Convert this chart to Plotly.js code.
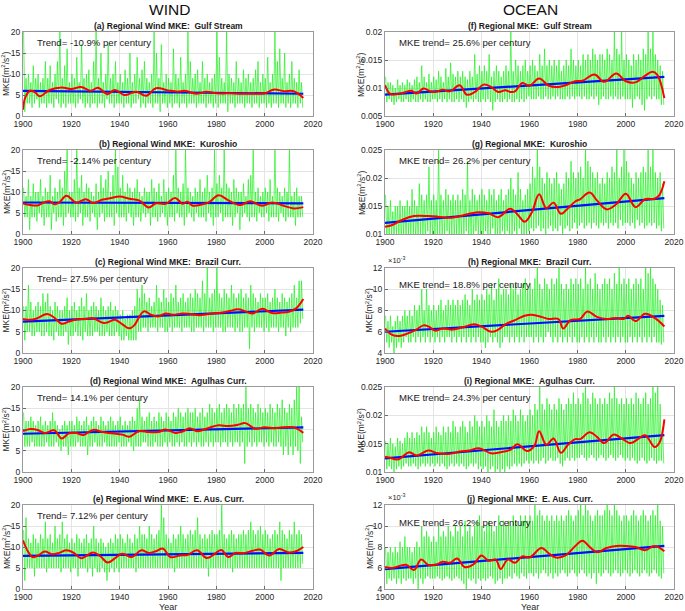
<!DOCTYPE html>
<html><head><meta charset="utf-8">
<script src="https://cdn.plot.ly/plotly-3.0.1.min.js"></script>
<style>html,body{margin:0;padding:0;background:#fff}#chart{width:685px;height:611px}</style>
</head><body><div id="chart"></div>
<script>
// ---------------- DATA ----------------
const startYear = 1900;
const xTickVals = [1900, 1920, 1940, 1960, 1980, 2000, 2020];
const trendYears = [1900, 2016];
const columnTitles = ['WIND', 'OCEAN'];
const panelTitles = [
  '(a) Regional Wind MKE:  Gulf Stream', '(b) Regional Wind MKE:  Kuroshio',
  '(c) Regional Wind MKE:  Brazil Curr.', '(d) Regional Wind MKE:  Agulhas Curr.',
  '(e) Regional Wind MKE:  E. Aus. Curr.',
  '(f) Regional MKE:  Gulf Stream', '(g) Regional MKE:  Kuroshio',
  '(h) Regional MKE:  Brazil Curr.', '(i) Regional MKE:  Agulhas Curr.',
  '(j) Regional MKE:  E. Aus. Curr.'
];
const trendLabels = [
  'Trend= -10.9% per century', 'Trend= -2.14% per century', 'Trend= 27.5% per century',
  'Trend= 14.1% per century', 'Trend= 7.12% per century',
  'MKE trend= 25.6% per century', 'MKE trend= 26.2% per century', 'MKE trend= 18.8% per century',
  'MKE trend= 24.3% per century', 'MKE trend= 26.2% per century'
];

// Wind panels (m^2/s^2): yearly high / low of the monthly series
const a_hi = [20,9,10,8,12,9,10,8,9,13, 9,12,8,10,13,20,9,12,16,8, 10,9,14,8,17,9,10,11,8,13, 20,9,15,8,10,17,9,10,13,8, 10,8,11,9,15,8,10,14,9,11, 13,9,8,10,20,15,9,17,8,10, 9,8,16,10,9,14,8,10,20,13, 9,10,11,8,13,9,10,8,9,10, 20,14,9,8,20,10,9,8,13,9, 8,11,9,10,8,9,11,13,8,10, 9,14,8,10,20,13,16,9,15,8, 10,13,9,8,11,8];
const a_lo = [1,3,3,2,3,4,2,3,3,2, 3,3,2,4,3,2,3,2,3,3, 3,2,3,4,3,2,3,2,3,3, 2,3,3,2,4,3,3,2,3,3, 3,2,3,3,2,3,3,4,2,3, 2,3,3,2,3,3,1,3,3,2, 3,2,3,3,2,3,3,2,3,3, 3,2,3,3,3,2,3,3,2,3, 2,3,3,3,1,3,3,2,3,3, 3,2,3,3,2,3,3,2,3,3, 2,3,2,3,3,2,3,3,2,3, 2,3,3,2,3,2];
const b_hi = [11,9,13,9,12,10,10,13,9,11, 10,14,9,11,10,13,11,15,20,10, 10,13,20,11,14,10,12,11,10,9, 12,10,14,11,13,15,10,14,20,16, 11,14,10,12,11,10,11,13,10,9, 11,10,10,13,11,10,12,9,13,10, 11,10,14,20,11,10,12,20,11,10, 9,11,10,13,10,11,14,10,11,20, 12,14,11,20,12,11,10,13,11,10, 10,12,9,13,14,20,10,11,9,10, 11,10,13,9,20,11,10,9,11,10, 20,9,10,11,9,9];
const b_lo = [4,4,1,4,4,3,5,4,2,4, 4,1,5,3,4,4,2,4,5,4, 4,3,4,5,2,4,4,3,5,4, 1,4,5,3,4,4,4,2,5,4, 4,4,3,5,4,2,4,4,3,5, 4,5,2,4,4,3,4,5,4,2, 4,4,3,5,4,4,2,4,5,4, 3,5,4,4,4,3,5,4,2,4, 4,5,3,4,4,4,2,4,5,1, 4,5,4,3,4,4,3,5,4,4, 5,3,4,4,4,3,5,4,3,4, 4,4,2,4,4,4];
const c_hi = [11,11,16,12,10,11,12,11,14,12, 14,11,10,12,11,10,10,11,13,10, 11,12,10,11,13,11,14,10,11,12, 11,10,13,11,10,11,12,10,11,10, 9,10,8,9,9,10,11,15,13,16, 14,12,13,11,12,16,13,12,15,13, 12,14,13,16,12,13,14,12,13,14, 13,15,14,13,17,14,20,13,14,15, 20,14,13,15,14,13,16,14,13,14, 15,13,14,13,16,14,13,12,14,13, 13,14,12,13,15,13,12,14,13,12, 13,14,16,13,17,17];
const c_lo = [3,5,5,4,4,5,5,4,4,5, 4,4,3,5,4,4,4,5,2,4, 4,5,4,4,3,5,4,4,4,5, 5,4,4,4,5,4,4,4,5,4, 3,3,4,3,3,3,3,5,5,6, 6,5,6,6,6,5,6,6,5,5, 6,5,6,6,6,5,6,6,6,5, 5,6,6,6,5,6,6,6,5,6, 6,6,5,5,6,6,6,5,6,5, 5,6,6,1,6,5,6,6,6,5, 6,5,6,6,6,5,6,6,4,6, 5,6,6,6,7,8];
const d_hi = [14,12,12,13,12,11,12,13,11,12, 11,12,14,12,11,10,11,12,11,12, 12,11,13,12,11,12,13,11,12,13, 12,11,13,12,11,12,13,12,11,12, 13,11,12,11,12,13,12,15,17,13, 12,13,14,12,13,12,14,13,12,14, 13,12,14,13,15,14,13,14,15,14, 14,15,13,14,15,13,14,16,15,14, 15,16,14,15,16,15,14,16,15,16, 15,16,20,15,16,15,14,16,15,14, 15,14,16,15,14,16,15,17,15,14, 16,15,17,20,20,13];
const d_lo = [6,6,6,7,6,6,6,6,6,7, 6,6,6,7,6,5,6,6,4,6, 6,6,7,6,6,6,4,6,6,7, 6,6,6,7,6,6,6,6,6,7, 6,6,6,7,6,5,6,6,6,7, 7,6,6,6,7,6,6,6,7,6, 7,6,6,7,6,7,6,6,7,6, 7,6,7,6,6,7,6,7,6,7, 7,6,7,7,6,7,6,7,7,6, 7,2,6,7,6,7,6,7,7,6, 7,6,7,6,6,7,6,4,6,4, 6,4,6,5,2,7];
const e_hi = [14,17,12,11,13,12,11,13,12,16, 12,13,11,15,12,13,16,12,13,11, 12,11,13,12,11,12,13,11,12,15, 12,11,12,11,10,11,12,11,13,12, 13,12,11,13,12,11,13,12,15,13, 13,12,15,13,12,13,14,20,17,13, 12,11,13,12,13,15,13,12,13,14, 13,14,17,13,12,13,12,13,14,13, 13,14,20,13,12,13,14,13,12,13, 13,14,13,14,16,14,13,14,15,13, 14,13,12,13,14,13,16,14,13,12, 14,13,16,13,14,13];
const e_lo = [2,5,5,5,3,5,5,5,5,4, 5,5,5,5,5,4,5,5,5,4, 5,5,3,5,5,5,4,5,3,5, 4,4,5,4,2,4,5,4,5,4, 5,5,5,5,5,5,4,5,5,5, 5,5,5,5,5,5,5,5,5,5, 5,5,4,5,5,5,5,5,5,5, 5,5,5,5,5,5,3,5,5,5, 5,5,5,5,5,5,4,5,5,5, 5,5,5,5,5,5,5,5,5,5, 5,5,5,5,5,5,2,5,5,5, 5,5,5,5,5,6];

// Ocean panels (units of 1e-3 m^2/s^2): yearly high / low
const f_hi = [12,11,11,10.5,10,11.5,10.5,11,10.5,11.5, 11,10.5,11.5,12,11,14,12,11,12.5,11, 12,11.5,13,12,11,13.5,12,14.5,12.5,12, 13,12,13,12,11.5,13,12,16,12.5,14, 13,14,13,16,12,13,14,13,12,13, 14,13,20,13,15,14,13,14,15,13, 14,15,14,13,16,14,17,14,15,14, 15,14,15,13,14,15,14,17,15,14, 15,14,16,15,16,15,17,16,15,16, 16,15,17,16,15,20,17,16,20,15, 16,15,14,16,15,16,15,17,16,20, 17,20,16,15,14,13];
const f_lo = [7.5,8,7.5,7,7.5,8,7.5,7.5,8,7.5, 7.5,8,7.5,7.5,8,7.5,8,7.5,7.5,8, 8,7.5,8,7.5,8,7.5,8,7.5,7.5,8, 7.5,8,7.5,6.5,7.5,8,7.5,8,7.5,7.5, 8,7.5,8,7.5,6,7.5,8,7.5,7.5,8, 7.5,8,7.5,7.5,8,7.5,8,7.5,8,8.5, 8,8,8,8.5,8,8,8.5,8,8,8.5, 8,8.5,8,8,8,8.5,8,8.5,8,8.5, 8.5,8,8.5,8,8,8.5,8,8.5,7,8, 8.5,8,8,8.5,8,8.5,8,8,8.5,8, 8,8,6.5,8,8.5,8,7,6,8,8.5, 8,8.5,8,8,7,7];
const g_hi = [17,15,16,14,15,15,16,15,15,16, 15,18,16,15,19,17,16,17,22,16, 17,16,25,17,16,18,17,16,17,16, 17,16,18,17,23,16,18,17,16,17, 18,17,16,18,17,18,16,17,18,16, 17,18,20,18,17,21,18,16,17,18, 19,22,20,25,22,20,19,21,20,19, 20,21,19,18,19,21,20,23,21,20, 21,22,20,25,23,22,21,20,21,19, 20,19,21,20,22,21,25,20,22,25, 23,21,20,19,21,20,21,22,21,25, 22,25,21,20,21,19];
const g_lo = [9,9.5,10,9,10,9.5,9,10,9.5,10, 9.5,10,9,10,9.5,10,9,10.5,10,9.5, 10,9.5,10,9,10,10.5,9.5,10,9,10, 10,9.5,10,10.5,9.5,10,9,10.5,10,9.5, 10,10.5,9.5,10,11,10,9.5,10,10.5,10, 10.5,10,9.5,10.5,10,11,10,9.5,10,10.5, 11,10.5,11,11.5,10.5,11,10,11,11.5,10.5, 11,10.5,11.5,10,11,11.5,10.5,11,12,11, 11.5,12,11,11.5,12,11,12,11.5,11,12, 11.5,12,11,12,11.5,12,11,12.5,11.5,12, 12,11.5,12,11,12.5,11.5,12,11,11.5,12, 11.5,12,11,11.5,10.5,11];
const h_hi = [7.5,7,7.5,6.5,7,7.5,7,7.5,8,7.5, 8,7.5,8.5,8,8.5,10,8,10,8.5,8, 8.5,8,8.5,9,8,8.5,9,8.5,9,8.5, 9,8.5,9,9.5,9,8.5,10,9,9.5,9, 9.5,9,10,9.5,10.5,9,10,11,9.5,10, 10,9.5,10.5,10,10.5,9.5,10,10.5,11,10, 10.5,10,11,12,10.5,10,11,10.5,10,11, 10.5,11,12,10.5,10,10.5,10,11,10.5,11, 10.5,11,10,12,10.5,11,10,11.5,10.5,10, 10.5,11,10.5,11,10,11.5,10.5,12,10.5,11, 10.5,11,10,10.5,11,10.5,11,10,12,11.5, 12,11,10.5,10,9,8.5];
const h_lo = [5,4.5,5,4,4.5,5,4.5,5,5.5,5, 5,5.5,5,5.5,5,5.5,5,5.5,5,5.5, 5,5.5,5,5.5,5,5.5,5.5,5,5.5,5, 5.5,5,5.5,5,5.5,5,5.5,5,5.5,5, 5,4.5,5,5.5,5,5.5,5,4.5,5,5.5, 5.5,5,5.5,5,5.5,5,5.5,5,5.5,5.5, 5.5,5,5.5,5,5.5,5,5.5,6,5.5,5, 5.5,5,5.5,5,5.5,5,5.5,5,5.5,5, 5,5.5,5,5.5,5,5.5,5,5.5,5,5, 5.5,5,5.5,5,5.5,5,5.5,5,5.5,5, 5,5.5,5,5.5,5,5.5,5,5.5,5,5.5, 5,5.5,5,5,4.8,5];
const i_hi = [15.5,15,16,15,14.5,16,15.5,15,16,17, 16,17,16,17,16.5,18,17,18,17,16, 17,18,17,16.5,18,17,18,17,19,18, 17,18,19,18,17,19,18,20,19,18, 19,18,20,19,18,21,19,18,19,20, 19,20,19,21,20,19,21,20,19,20, 21,20,22,21,25,22,21,23,22,21, 22,21,23,22,21,22,23,22,24,22, 23,22,24,25,23,22,24,23,22,23, 22,23,22,24,23,25,23,22,23,22, 23,22,23,22,24,23,22,23,24,22, 23,25,24,25,22,18];
const i_lo = [10.5,11,10.5,10,10.5,11,10.5,11,11.5,11, 11,11.5,11,10.5,11,11.5,11,11.5,11,11.5, 11,11.5,11,11.5,11,10.5,11,11.5,11,11.5, 11,11.5,11,10.5,11,11.5,11,11.5,10.5,11, 10.5,11,10,10.5,11,10,10.5,10,10.5,10, 11,10.5,11,11.5,11,11.5,11,11.5,12,11.5, 12,11.5,12,11.5,12,12.5,11.5,12,12.5,12, 12,12.5,11.5,11,12,12.5,12,12.5,12,12.5, 12.5,13,12.5,12,12.5,13,12.5,12,12.5,13, 12.5,12,12.5,13,12.5,12,12.5,13,12.5,12, 12.5,12,12.5,12,11.5,12,12.5,12,11.5,12, 12.5,12,11.5,12,12,11.5];
const j_hi = [8,7.5,8,7.5,8,7.5,8.5,8,9,8, 8,7.5,8,8.5,8,10,9,9.5,9,8.5, 9,8.5,10,9,9.5,9,10,9.5,9,10, 9.5,10,9,10.5,9.5,10,9,10,10.5,11, 10,9.5,10,10.5,10,9.5,10,11,10,10.5, 10,10.5,10,11,10.5,10,11,10.5,11,10.5, 11,10.5,12,11,11.5,11,10.5,11,10.5,11, 10.5,11,10.5,11,10.5,11,11.5,11,10.5,11, 11.5,12,11,12,11.5,11,10.5,11,11.5,11, 11,11.5,12,11.5,11,12,11.5,11,10.5,11, 11,10.5,11,11.5,11,10.5,11,11.5,11,10.5, 11,11.5,11,12,10.5,10];
const j_lo = [4.5,5,4.8,5,4.5,5,4.5,5,4.8,5, 5,4.5,5,4,5,4.5,5,5.2,5,5, 5,5.2,5,4.8,5,5.2,5,4.8,5,5.2, 5,4.8,4.5,4,5,4.8,5,4.5,5,4.8, 5,4.8,5,5.2,5,4.5,4.8,5,4.5,5, 5,5.2,5,5.5,5.2,5,5.5,5.2,5,5.5, 5.5,5.2,5.5,5,5.5,5.8,5.5,5.2,5.5,5, 5.5,5.2,5.5,5.8,5.5,5.2,5.5,5.8,5.5,5.2, 5.5,5.8,5.5,5.2,5.5,5,5.5,4.5,5.5,5.2, 5.5,5.8,5.5,5.2,5.5,5.8,5.5,5.2,5.5,5.8, 5.5,5.2,5.5,5.8,5.5,5.2,5.5,5.8,5.5,5.2, 5.5,5.8,5.5,5.2,5,5.5];

// Smoothed (red) curves: years and values
const a_redYears = [1900,1901,1903,1905,1907,1911,1916,1920,1924,1928,1931,1935,1938,1942,1945,1947,1951,1955,1960,1964,1967,1972,1976,1980,1985,1990,1995,2000,2004,2008,2012,2016];
const a_redVals  = [1.5,4.5,6.0,5.6,4.7,6.2,6.8,6.4,6.9,6.0,6.7,5.2,6.2,5.0,5.5,5.8,4.8,6.6,6.1,5.8,6.0,5.3,5.8,5.4,5.4,5.3,5.3,5.4,6.3,5.9,5.9,4.3];
const b_redYears = [1900,1903,1906,1909,1911,1913,1915,1918,1922,1926,1929,1933,1936,1940,1944,1948,1952,1955,1959,1963,1966,1968,1970,1974,1977,1981,1985,1990,1994,1999,2003,2008,2012,2016];
const b_redVals  = [7.3,6.9,6.8,7.6,7.8,7.1,7.5,9.1,7.5,8.3,7.4,8.2,8.5,8.9,8.4,8.0,6.3,7.3,7.2,8.6,7.2,7.7,6.8,7.0,7.6,9.2,8.0,6.9,7.8,6.7,7.5,6.7,6.1,6.4];
const c_redYears = [1900,1903,1906,1910,1913,1916,1919,1922,1926,1929,1933,1935,1938,1941,1944,1946,1950,1953,1956,1959,1962,1966,1969,1973,1977,1981,1985,1989,1992,1995,1999,2003,2007,2010,2013,2016];
const c_redVals  = [8.0,7.8,8.2,9.2,8.3,6.9,7.4,7.9,8.0,8.2,7.1,7.2,7.8,6.8,5.8,6.5,9.8,9.0,8.6,9.3,9.0,9.3,9.2,8.9,9.2,9.4,9.8,10.3,9.8,9.3,10.4,9.4,9.5,9.7,10.5,12.7];
const d_redYears = [1900,1903,1906,1909,1913,1916,1919,1922,1925,1929,1933,1937,1941,1944,1948,1952,1956,1959,1963,1966,1969,1972,1975,1978,1981,1985,1989,1992,1996,2000,2004,2008,2012,2016];
const d_redVals  = [9.6,10.1,9.9,9.2,9.8,7.9,9.1,9.2,8.7,9.9,9.4,9.1,8.8,8.3,9.6,9.4,9.4,10.0,9.2,9.5,10.3,9.6,10.0,10.6,11.0,10.8,11.1,11.5,10.2,10.5,10.3,10.5,10.5,9.2];
const e_redYears = [1900,1902,1904,1906,1909,1912,1915,1918,1921,1924,1926,1929,1932,1935,1938,1941,1945,1949,1952,1955,1958,1961,1965,1968,1972,1976,1979,1982,1985,1988,1991,1995,1998,2002,2006,2010,2013,2016];
const e_redVals  = [11.6,9.0,7.6,7.9,8.9,8.3,8.6,9.2,8.6,7.3,7.8,8.7,7.8,6.3,7.3,8.4,7.6,9.2,8.6,9.0,9.6,7.6,8.0,8.1,9.2,7.4,8.2,9.3,7.6,8.6,8.5,9.1,9.4,8.0,9.5,8.7,9.0,10.0];
const f_redYears = [1900,1902,1905,1908,1911,1913,1916,1919,1921,1924,1927,1931,1934,1937,1941,1944,1947,1950,1952,1954,1957,1960,1964,1968,1972,1975,1979,1982,1987,1991,1996,2000,2004,2008,2011,2013,2016];
const f_redVals  = [10.5,9.0,8.9,9.2,9.5,9.0,9.9,9.4,9.3,9.7,9.4,10.5,8.8,9.2,10.6,10.2,9.3,9.6,9.3,9.4,10.9,10.4,11.7,10.4,10.2,10.5,11.2,11.3,12.4,11.1,12.6,11.2,11.0,12.2,12.9,12.4,8.2];
const g_redYears = [1900,1903,1907,1912,1918,1922,1927,1931,1935,1939,1943,1947,1952,1955,1958,1961,1964,1967,1970,1973,1976,1979,1981,1985,1988,1992,1996,2000,2004,2008,2012,2014,2016];
const g_redVals  = [11.3,11.6,12.5,13.2,13.2,13.1,12.9,13.2,13.6,13.9,13.7,13.0,14.5,13.5,12.2,13.9,17.1,14.6,15.6,13.6,14.6,15.8,16.2,17.4,16.0,14.4,15.3,17.2,14.8,16.2,16.3,17.0,19.4];
const h_redYears = [1900,1903,1906,1909,1913,1916,1918,1921,1924,1928,1932,1937,1940,1944,1947,1950,1954,1958,1961,1965,1968,1972,1974,1977,1981,1984,1988,1992,1996,1999,2001,2004,2008,2012,2016];
const h_redVals  = [6.3,5.7,5.6,5.8,6.2,6.6,6.5,6.1,6.3,6.2,6.4,6.7,6.5,6.0,6.2,6.7,7.1,7.5,7.6,7.4,7.2,7.2,6.3,7.1,7.2,7.9,7.4,7.2,7.3,7.2,7.5,7.0,7.7,7.3,6.5];
const i_redYears = [1900,1902,1905,1907,1910,1913,1915,1918,1922,1927,1931,1935,1939,1944,1948,1952,1955,1959,1962,1964,1967,1970,1973,1976,1979,1981,1985,1988,1991,1995,1998,2002,2005,2008,2012,2014,2016];
const i_redVals  = [12.7,12.5,12.2,12.6,13.5,12.9,13.2,13.8,13.3,13.2,13.6,13.8,14.2,13.3,13.5,13.9,14.9,13.7,14.6,17.2,14.8,15.9,13.4,14.8,15.8,15.8,17.0,16.2,15.1,16.6,16.0,15.1,15.8,16.5,14.4,15.2,19.3];
const j_redYears = [1900,1903,1906,1909,1912,1915,1918,1921,1924,1927,1930,1933,1937,1940,1943,1946,1948,1951,1954,1957,1960,1965,1968,1971,1975,1979,1982,1985,1988,1992,1996,2000,2004,2008,2012,2016];
const j_redVals  = [6.1,6.0,6.2,6.3,5.8,6.8,6.3,6.3,6.6,6.5,6.9,6.1,6.4,7.2,6.7,6.8,5.9,6.8,6.5,7.1,7.0,7.9,7.4,7.0,7.2,8.1,8.6,8.0,7.5,7.9,8.1,8.1,8.0,7.7,8.1,7.6];

// Linear trends (values at 1900 and 2016)
const a_trend = [6.0, 5.3];
const b_trend = [7.5, 7.3];
const c_trend = [7.4, 10.2];
const d_trend = [9.0, 10.5];
const e_trend = [7.9, 8.6];
const f_trend = [8.8, 12.0];
const g_trend = [12.0, 16.4];
const h_trend = [6.0, 7.5];
const i_trend = [12.4, 16.5];
const j_trend = [5.9, 8.1];

// ---------------- LAYOUT / DRAW ----------------
const W = 685, H = 611;
const colX = [[23, 313], [385, 674]];
const rowY = [[32, 116], [150, 234], [268, 353], [387, 472], [505, 589]];
const FONT = 'Liberation Sans, Arial, sans-serif';
const OCEAN_UNIT = 1e-3;

const panels = [
  {col:0,row:0,hi:a_hi,lo:a_lo,ry:a_redYears,rv:a_redVals,tr:a_trend,scale:1,range:[0,20],dt:5,exp:false},
  {col:0,row:1,hi:b_hi,lo:b_lo,ry:b_redYears,rv:b_redVals,tr:b_trend,scale:1,range:[0,20],dt:5,exp:false},
  {col:0,row:2,hi:c_hi,lo:c_lo,ry:c_redYears,rv:c_redVals,tr:c_trend,scale:1,range:[0,20],dt:5,exp:false},
  {col:0,row:3,hi:d_hi,lo:d_lo,ry:d_redYears,rv:d_redVals,tr:d_trend,scale:1,range:[0,20],dt:5,exp:false},
  {col:0,row:4,hi:e_hi,lo:e_lo,ry:e_redYears,rv:e_redVals,tr:e_trend,scale:1,range:[0,20],dt:5,exp:false},
  {col:1,row:0,hi:f_hi,lo:f_lo,ry:f_redYears,rv:f_redVals,tr:f_trend,scale:OCEAN_UNIT,range:[0.005,0.02],dt:0.005,exp:false},
  {col:1,row:1,hi:g_hi,lo:g_lo,ry:g_redYears,rv:g_redVals,tr:g_trend,scale:OCEAN_UNIT,range:[0.01,0.025],dt:0.005,exp:false},
  {col:1,row:2,hi:h_hi,lo:h_lo,ry:h_redYears,rv:h_redVals,tr:h_trend,scale:1,range:[4,12],dt:2,exp:true},
  {col:1,row:3,hi:i_hi,lo:i_lo,ry:i_redYears,rv:i_redVals,tr:i_trend,scale:OCEAN_UNIT,range:[0.01,0.025],dt:0.005,exp:false},
  {col:1,row:4,hi:j_hi,lo:j_lo,ry:j_redYears,rv:j_redVals,tr:j_trend,scale:1,range:[4,12],dt:2,exp:true}
];

const traces = [];
const layout = {
  width: W, height: H, margin: {l:0, r:0, t:0, b:0},
  paper_bgcolor: '#fff', plot_bgcolor: '#fff', showlegend: false,
  font: {family: FONT, color: '#262626'},
  annotations: []
};
const px = x => x / W, py = y => 1 - y / H;

panels.forEach((p, k) => {
  const n = k + 1;
  const xa = 'x' + (n === 1 ? '' : n), ya = 'y' + (n === 1 ? '' : n);
  // green monthly envelope: alternate high/low within each year
  const gx = [], gy = [];
  for (let i = 0; i < Math.min(p.hi.length, p.lo.length); i++) {
    gx.push(startYear + i + 0.25, startYear + i + 0.75);
    gy.push(p.hi[i] * p.scale, p.lo[i] * p.scale);
  }
  traces.push({x: gx, y: gy, xaxis: xa, yaxis: ya, type: 'scatter', mode: 'lines',
    line: {color: 'rgb(30,240,30)', width: 0.7}, hoverinfo: 'skip'});
  traces.push({x: trendYears, y: p.tr.map(v => v * p.scale), xaxis: xa, yaxis: ya, type: 'scatter', mode: 'lines',
    line: {color: '#0010ff', width: 2.2}, hoverinfo: 'skip'});
  traces.push({x: p.ry, y: p.rv.map(v => v * p.scale), xaxis: xa, yaxis: ya, type: 'scatter', mode: 'lines',
    line: {color: '#ff0000', width: 2, shape: 'spline', smoothing: 1.1}, hoverinfo: 'skip'});

  const [x0, x1] = colX[p.col], [yt, yb] = rowY[p.row];
  const yTicks = [];
  for (let v = p.range[0]; v <= p.range[1] + 1e-12; v += p.dt) yTicks.push(+v.toPrecision(6));
  const common = {showline: true, mirror: true, linecolor: '#9a9a9a', linewidth: 1,
    showgrid: true, gridcolor: '#e4e4e4', gridwidth: 1, zeroline: false,
    ticks: 'inside', ticklen: 3, tickcolor: '#6a6a6a',
    tickfont: {family: FONT, size: 8.5, color: '#262626'}, fixedrange: true};
  layout['xaxis' + (n === 1 ? '' : n)] = Object.assign({}, common, {
    domain: [px(x0), px(x1)], anchor: ya, range: [1900, 2020], tickmode: 'array', tickvals: xTickVals});
  layout['yaxis' + (n === 1 ? '' : n)] = Object.assign({}, common, {
    domain: [py(yb), py(yt)], anchor: xa, range: p.range, tickmode: 'array', tickvals: yTicks});

  // panel title
  layout.annotations.push({xref: 'paper', yref: 'paper', x: px((x0 + x1) / 2), y: py(yt - 6),
    xanchor: 'center', yanchor: 'middle', showarrow: false,
    text: '<b>' + panelTitles[k].replace(/  /g, ' \u00a0') + '</b>',
    font: {family: FONT, size: 8.5, color: '#1a1a1a'}});
  // trend label
  layout.annotations.push({xref: 'paper', yref: 'paper', x: px(x0 + 12), y: py(yt + (p.exp ? 17 : 10)),
    xanchor: 'left', yanchor: 'middle', showarrow: false, text: trendLabels[k],
    font: {family: FONT, size: 9.6, color: '#1a1a1a'}});
  // y title
  const yx = p.col === 0 ? 6 : (p.exp ? 369 : 361);
  layout.annotations.push({xref: 'paper', yref: 'paper', x: px(yx), y: py((yt + yb) / 2),
    xanchor: 'center', yanchor: 'middle', textangle: -90, showarrow: false,
    text: 'MKE(m<sup>2</sup>/s<sup>2</sup>)', font: {family: FONT, size: 8.5, color: '#262626'}});
  if (p.exp) {
    layout.annotations.push({xref: 'paper', yref: 'paper', x: px(x0 + 1), y: py(yt - 1),
      xanchor: 'left', yanchor: 'bottom', showarrow: false,
      text: '\u00d710<sup>-3</sup>', font: {family: FONT, size: 7.5, color: '#262626'}});
  }
  if (p.row === 4) {
    layout.annotations.push({xref: 'paper', yref: 'paper', x: px((x0 + x1) / 2), y: py(607),
      xanchor: 'center', yanchor: 'middle', showarrow: false, text: 'Year',
      font: {family: FONT, size: 9, color: '#262626'}});
  }
});

columnTitles.forEach((t, c) => {
  layout.annotations.push({xref: 'paper', yref: 'paper', x: px((colX[c][0] + colX[c][1]) / 2 + 1), y: py(9),
    xanchor: 'center', yanchor: 'middle', showarrow: false, text: t,
    font: {family: FONT, size: 15.5, color: '#111'}});
});

Plotly.newPlot('chart', traces, layout, {staticPlot: true, displayModeBar: false});
</script>
</body></html>
